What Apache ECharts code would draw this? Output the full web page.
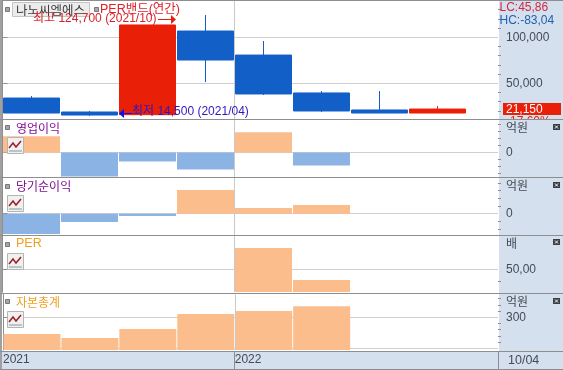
<!DOCTYPE html>
<html>
<head>
<meta charset="utf-8">
<style>
html, body { margin: 0; padding: 0; background: #fff; overflow: hidden; }
#chart { width: 563px; height: 370px; }
</style>
<script src="https://cdn.jsdelivr.net/npm/echarts@6/dist/echarts.min.js"></script>
</head>
<body>
<div id="chart"></div>
<script>
// slot centres on the x axis, one slot per period
const slots = [0.5, 1.5, 2.5, 3.5, 4.5, 5.5, 6.5, 7.5];
const yearLabels = { 0: "2021", 4: "2022" };
const yearLineAt = 4;

// open, close, low, high
const candles = [
  [34000, 17700, 17700, 36200],
  [18800, 15500, 14500, 19900],
  [15900, 113400, 15900, 113400],
  [106800, 75300, 51400, 124200],
  [80700, 38400, 37300, 96000],
  [39500, 19900, 18800, 41600],
  [21000, 17700, 17700, 41600],
  [17700, 22000, 17700, 25300]
];
const operatingProfit = [11.6, -17.1, -6.4, -12.1, 14.5, -9.3];
const netIncome = [-13.2, -5.4, -1.5, 15.4, 3.7, 5.7];
const perValues = [null, null, null, null, 93.3, 28.3];
const totalEquity = [246, 233, 262, 311, 320, 336];

const C_RED = "#ea1f08", C_BLUE = "#135fc8", C_PEACH = "#fbbd8b", C_SKY = "#8bb3e3";
const C_PANEL = "#d5e0ee", C_LINE = "#d0d0d0", C_BORDER = "#8e8e8e", C_AXIS = "#444b55";
const NARROW = '"Liberation Sans", "Noto Sans CJK KR", sans-serif';
const KOREAN = '"Noto Sans CJK KR"';

// one entry per stacked panel
const panels = [
  { top: 1, bottom: 119, min: 11196, max: 139457, major: [50000, 100000], labels: [50000, 100000],
    minor: [20000, 30000, 40000, 60000, 70000, 80000, 90000, 110000, 120000, 130000] },
  { top: 120, bottom: 177, min: -17.5, max: 23.2, major: [0], labels: [0], minor: [5, 10, 15, 20, -5, -10, -15] },
  { top: 178, bottom: 235, min: -13.85, max: 23.2, major: [0], labels: [0], minor: [5, 10, 15, 20, -5, -10] },
  { top: 236, bottom: 292, min: 3.9, max: 117.7, major: [50], labels: [50], minor: [25], fmt: v => v.toFixed(2).replace(".", ",") },
  { top: 294.5, bottom: 350, min: 194.5, max: 373.5, major: [200, 300], labels: [300], minor: [220, 240, 260, 280, 320, 340, 360] }
];

function toPoints(values) {
  return values.map((v, i) => [slots[i], v]);
}

function yearLine() {
  return {
    silent: true, symbol: "none", label: { show: false }, animation: false,
    lineStyle: { color: "#c9c9c9", width: 1, type: "solid" },
    data: [{ xAxis: yearLineAt }]
  };
}

function barSeries(idx, values, colorFn) {
  return {
    type: "bar", xAxisIndex: idx, yAxisIndex: idx * 2, barWidth: 57, animation: false, silent: true,
    data: toPoints(values),
    itemStyle: { color: p => colorFn(p.value[1]) },
    markLine: yearLine()
  };
}

const signColor = v => (v >= 0 ? C_PEACH : C_SKY);
const peach = () => C_PEACH;

let grids = [], xAxes = [], yAxes = [];
panels.forEach((p, i) => {
  grids.push({ left: 2.5, right: 65, top: p.top, height: p.bottom - p.top });
  xAxes.push({
    type: "value", gridIndex: i, min: 0, max: 495.5 / 58, interval: 4,
    splitLine: { show: false }, axisLine: { show: false }, axisTick: { show: false },
    axisLabel: {
      show: i === 4, margin: 4, align: "left", color: C_AXIS, fontFamily: NARROW, fontSize: 12,
      formatter: v => yearLabels[v] || ""
    }
  });
  yAxes.push({
    type: "value", gridIndex: i, position: "right", min: p.min, max: p.max,
    axisLine: { show: true, lineStyle: { color: C_BORDER } },
    axisTick: { show: true, length: 5, lineStyle: { color: C_BORDER }, customValues: p.major },
    splitLine: { show: true, lineStyle: { color: C_LINE } },
    axisLabel: {
      show: true, margin: 8, color: C_AXIS, fontFamily: NARROW, fontSize: 12, customValues: p.labels,
      formatter: p.fmt || (v => v.toLocaleString("en-US"))
    }
  });
  yAxes.push({
    type: "value", gridIndex: i, position: "right", min: p.min, max: p.max,
    axisLine: { show: false }, splitLine: { show: false }, axisLabel: { show: false },
    axisTick: { show: true, length: 3, lineStyle: { color: C_BORDER }, customValues: p.minor }
  });
});

let series = [
  {
    type: "candlestick", xAxisIndex: 0, yAxisIndex: 0, barWidth: 57, animation: false, silent: true,
    data: candles.map((c, i) => [slots[i]].concat(c)),
    itemStyle: { color: C_RED, color0: C_BLUE, borderColor: C_RED, borderColor0: C_BLUE, borderWidth: 1 },
    markLine: yearLine()
  },
  barSeries(1, operatingProfit, signColor),
  barSeries(2, netIncome, signColor),
  barSeries(3, perValues, peach),
  barSeries(4, totalEquity, peach)
];

// page furniture: panels, captions, buttons
function rect(x, y, w, h, fill, z, stroke) {
  return { type: "rect", silent: true, z: z, shape: { x: x, y: y, width: w, height: h },
    style: { fill: fill, stroke: stroke || null, lineWidth: stroke ? 1 : 0 } };
}
function text(str, x, y, color, size, family, z) {
  return { type: "text", silent: true, z: z || 50, x: x, y: y,
    style: { text: str, fill: color, fontSize: size || 12, fontFamily: family || NARROW, align: "left", verticalAlign: "middle" } };
}
function line(points, color, width, z) {
  return { type: "polyline", silent: true, z: z || 45, shape: { points: points }, style: { stroke: color, lineWidth: width || 1, fill: null } };
}
function poly(points, color) {
  return { type: "polygon", silent: true, z: 45, shape: { points: points }, style: { fill: color } };
}
function chartButton(y) {
  return [
    rect(7.5, y + 0.5, 16, 16, "#f0f0ee", 40, "#b4b4b4"),
    line([[9, y + 14], [22, y + 14]], "#7aa0a0", 1, 41),
    line([[9, y + 11], [13, y + 6], [16, y + 10], [21, y + 4]], "#9c1c28", 1.5, 42)
  ];
}
function closeButton(y) {
  return [
    rect(553, y, 7, 6, "#3a3f46", 40),
    line([[555, y + 1.5], [558, y + 4.5]], "#fff", 1, 41),
    line([[558, y + 1.5], [555, y + 4.5]], "#fff", 1, 41)
  ];
}
function bullet(x, y) {
  return rect(x + 0.5, y + 0.5, 4, 4, "#a8a8a8", 40, "#777");
}

let furniture = [
  rect(499, 1, 64, 369, C_PANEL, -3),
  rect(0, 351, 563, 18, C_PANEL, -3),

  // price tag, its change text is cut by the panel below
  text("-17,60%", 506, 122, C_RED, 12, NARROW, -2),
  rect(499.5, 119.5, 63.5, 58, C_PANEL, -1),
  rect(503, 103, 58, 12, C_RED, 30),
  text("21,150", 506, 109.5, "#fff", 12, NARROW, 50),

  text("LC:45,86", 499.5, 8, "#d02a40"),
  text("HC:-83,04", 499.5, 20.5, "#2060b0"),

  rect(12.5, 2.5, 77, 14, "#ececec", 40, "#c4c4c4"),
  bullet(5, 7),
  bullet(94, 7),
  text("나노씨엠에스", 16, 10, "#3c3c3c", 12.5, KOREAN),
  text("PER밴드(연간)", 100, 9.5, "#e0202a", 12.5),
  text("최고 124,700 (2021/10)", 33, 19, "#d8202a", 12),
  line([[158, 19.5], [171, 19.5]], C_RED, 1),
  poly([[171, 15], [176, 19.5], [171, 24]], C_RED),
  text("최저 14,500 (2021/04)", 132, 112, "#3018c0", 12),
  line([[124, 113.5], [132, 113.5]], "#1010e0", 1),
  poly([[124, 109], [119, 113.5], [124, 118]], "#1010e0"),

  bullet(5, 125), text("영업이익", 16, 128, "#800e96", 12, KOREAN),
  bullet(5, 184), text("당기순이익", 16, 186, "#800e96", 12, KOREAN),
  bullet(5, 242), text("PER", 16, 244, "#eea020", 12.5),
  bullet(5, 299), text("자본총계", 16, 302, "#eea020", 12, KOREAN),

  text("억원", 506, 127, C_AXIS, 12, KOREAN),
  text("억원", 506, 185, C_AXIS, 12, KOREAN),
  text("배", 506, 243, C_AXIS, 12, KOREAN),
  text("억원", 506, 301, C_AXIS, 12, KOREAN),
  text("10/04", 508, 360.5, C_AXIS, 12.5),

  // frame
  rect(0, 0, 563, 1, C_BORDER, 20),
  rect(0, 0, 2, 370, "#a0a0a0", 20),
  rect(0, 119, 563, 1, C_BORDER, 20),
  rect(0, 177, 563, 1, C_BORDER, 20),
  rect(0, 235, 563, 1, C_BORDER, 20),
  rect(0, 293, 563, 1, C_BORDER, 20),
  rect(0, 351, 563, 1, C_BORDER, 20),
  rect(0, 369, 563, 1, C_BORDER, 20),
  rect(498, 351, 1, 18, C_BORDER, 20),
  rect(234, 352, 1, 17, C_BORDER, 20)
];
[137, 195, 253, 311].forEach(y => { furniture = furniture.concat(chartButton(y)); });
[124, 182, 239, 298].forEach(y => { furniture = furniture.concat(closeButton(y)); });

let myChart = echarts.init(document.querySelector("#chart"), null, { renderer: "canvas" });
myChart.setOption({
  animation: false,
  backgroundColor: "#fff",
  grid: grids,
  xAxis: xAxes,
  yAxis: yAxes,
  series: series,
  graphic: furniture
});
</script>
</body>
</html>
